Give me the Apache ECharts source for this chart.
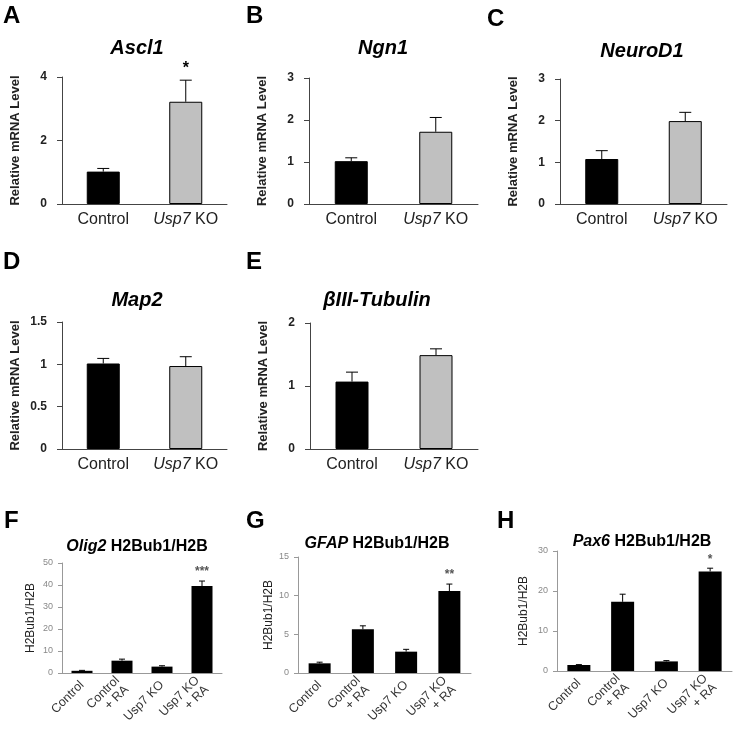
<!DOCTYPE html>
<html>
<head>
<meta charset="utf-8">
<script src="https://cdn.jsdelivr.net/npm/echarts@6/dist/echarts.min.js"></script>
<style>
  html, body { margin: 0; padding: 0; background: #fff; }
  #chart { width: 739px; height: 733px; }
</style>
</head>
<body>
<div id="chart"></div>
<script>
// ---------------- DATA ----------------
const topCategories = ['Control', 'Usp7 KO'];
const bottomCategories = ['Control', 'Control\n+ RA', 'Usp7 KO', 'Usp7 KO\n+ RA'];

const ascl1Mean = [1.02, 3.22];
const ascl1Err = [0.10, 0.68];
const ascl1Sig = ['', '*'];

const ngn1Mean = [1.02, 1.72];
const ngn1Err = [0.08, 0.34];
const ngn1Sig = ['', ''];

const neurod1Mean = [1.08, 1.99];
const neurod1Err = [0.20, 0.21];
const neurod1Sig = ['', ''];

const map2Mean = [1.01, 0.98];
const map2Err = [0.06, 0.11];
const map2Sig = ['', ''];

const tubulinMean = [1.07, 1.49];
const tubulinErr = [0.15, 0.10];
const tubulinSig = ['', ''];

const olig2Mean = [1.0, 5.6, 2.9, 39.5];
const olig2Err = [0.2, 0.7, 0.4, 2.3];
const olig2Sig = ['', '', '', '***'];

const gfapMean = [1.25, 5.65, 2.76, 10.6];
const gfapErr = [0.15, 0.45, 0.30, 0.9];
const gfapSig = ['', '', '', '**'];

const pax6Mean = [1.5, 17.3, 2.4, 24.9];
const pax6Err = [0.1, 1.9, 0.2, 0.8];
const pax6Sig = ['', '', '', '*'];

// axis ranges (max, interval)
const ascl1Axis = [4, 2];
const ngn1Axis = [3, 1];
const neurod1Axis = [3, 1];
const map2Axis = [1.5, 0.5];
const tubulinAxis = [2, 1];
const olig2Axis = [50, 10];
const gfapAxis = [15, 5];
const pax6Axis = [30, 10];

// ---------------- LAYOUT ----------------
const FONT = 'Liberation Sans, Arial, Helvetica, sans-serif';

const panels = [
  { letter: 'A', title: '{i|Ascl1}', cats: topCategories, mean: ascl1Mean, err: ascl1Err, sig: ascl1Sig, axis: ascl1Axis,
    grid: { left: 62, top: 77, width: 165, height: 127 }, titlePos: [137, 48], letterPos: [3, 4], kind: 'top' },
  { letter: 'B', title: '{i|Ngn1}', cats: topCategories, mean: ngn1Mean, err: ngn1Err, sig: ngn1Sig, axis: ngn1Axis,
    grid: { left: 309, top: 78, width: 169, height: 126 }, titlePos: [383, 48], letterPos: [246, 4], kind: 'top' },
  { letter: 'C', title: '{i|NeuroD1}', cats: topCategories, mean: neurod1Mean, err: neurod1Err, sig: neurod1Sig, axis: neurod1Axis,
    grid: { left: 560, top: 79, width: 167, height: 125 }, titlePos: [642, 51], letterPos: [487, 7], kind: 'top' },
  { letter: 'D', title: '{i|Map2}', cats: topCategories, mean: map2Mean, err: map2Err, sig: map2Sig, axis: map2Axis,
    grid: { left: 62, top: 322, width: 165, height: 127 }, titlePos: [137, 300], letterPos: [3, 250], kind: 'top' },
  { letter: 'E', title: '{i|βIII-Tubulin}', cats: topCategories, mean: tubulinMean, err: tubulinErr, sig: tubulinSig, axis: tubulinAxis,
    grid: { left: 310, top: 323, width: 168, height: 126 }, titlePos: [377, 300], letterPos: [246, 250], kind: 'top' },
  { letter: 'F', title: '{i|Olig2} H2Bub1/H2B', cats: bottomCategories, mean: olig2Mean, err: olig2Err, sig: olig2Sig, axis: olig2Axis,
    grid: { left: 62, top: 563, width: 160, height: 110 }, titlePos: [137, 547], letterPos: [4, 509], kind: 'bottom', barWidth: 21, nameGap: 25 },
  { letter: 'G', title: '{i|GFAP} H2Bub1/H2B', cats: bottomCategories, mean: gfapMean, err: gfapErr, sig: gfapSig, axis: gfapAxis,
    grid: { left: 298, top: 557, width: 173, height: 116 }, titlePos: [377, 544], letterPos: [246, 509], kind: 'bottom', barWidth: 22, nameGap: 23 },
  { letter: 'H', title: '{i|Pax6} H2Bub1/H2B', cats: bottomCategories, mean: pax6Mean, err: pax6Err, sig: pax6Sig, axis: pax6Axis,
    grid: { left: 557, top: 551, width: 175, height: 120 }, titlePos: [642, 542], letterPos: [497, 509], kind: 'bottom', barWidth: 23, nameGap: 27 }
];

const option = {
  animation: false,
  backgroundColor: '#fff',
  textStyle: { fontFamily: FONT },
  title: [], grid: [], xAxis: [], yAxis: [], series: []
};

function catFormatter(v) {
  if (v.indexOf('Usp7') === 0) return '{i|Usp7}' + v.slice(4);
  return v;
}

panels.forEach((p, k) => {
  const isTop = p.kind === 'top';
  // panel letter
  option.title.push({
    text: p.letter, left: p.letterPos[0], top: p.letterPos[1], padding: 0,
    textStyle: { fontFamily: FONT, fontSize: 24, fontWeight: 'bold', color: '#000' }
  });
  // panel title
  const tSize = isTop ? 20 : 16;
  option.title.push({
    text: p.title, left: p.titlePos[0], top: p.titlePos[1], padding: 0,
    textAlign: 'center', textVerticalAlign: 'middle',
    textStyle: {
      fontFamily: FONT, fontSize: tSize, fontWeight: 'bold', color: '#000',
      rich: { i: { fontFamily: FONT, fontSize: tSize, fontWeight: 'bold', fontStyle: 'italic', color: '#000' } }
    }
  });
  option.grid.push(Object.assign({ containLabel: false }, p.grid));

  const axisColor = isTop ? '#444' : '#999';
  option.xAxis.push({
    type: 'category', gridIndex: k, data: p.cats,
    axisLine: { show: true, lineStyle: { color: axisColor, width: 1 } },
    axisTick: { show: false },
    splitLine: { show: false },
    axisLabel: isTop ? {
      interval: 0, margin: 8, fontFamily: FONT, fontSize: 16, color: '#222',
      formatter: catFormatter,
      rich: { i: { fontFamily: FONT, fontSize: 16, fontStyle: 'italic', color: '#222' } }
    } : {
      interval: 0, rotate: 45, margin: 10, fontFamily: FONT, fontSize: 12.5, color: '#333', lineHeight: 13
    }
  });
  option.yAxis.push({
    type: 'value', gridIndex: k, min: 0, max: p.axis[0], interval: p.axis[1],
    axisLine: { show: true, lineStyle: { color: axisColor, width: 1 } },
    axisTick: { show: true, length: isTop ? 5 : 4, lineStyle: { color: axisColor } },
    splitLine: { show: false },
    axisLabel: isTop
      ? { margin: 15, fontFamily: FONT, fontSize: 12, fontWeight: 'bold', color: '#222' }
      : { margin: 9, fontFamily: FONT, fontSize: 9, color: '#888' },
    name: isTop ? 'Relative mRNA Level' : 'H2Bub1/H2B',
    nameLocation: 'middle',
    nameGap: isTop ? 40 : p.nameGap,
    nameTextStyle: isTop
      ? { fontFamily: FONT, fontSize: 13, fontWeight: 'bold', color: '#222' }
      : { fontFamily: FONT, fontSize: 12, color: '#222' }
  });

  const colors = isTop ? ['#000000', '#c0c0c0'] : ['#000000', '#000000', '#000000', '#000000'];
  option.series.push({
    type: 'bar', xAxisIndex: k, yAxisIndex: k,
    barWidth: isTop ? 33 : p.barWidth,
    data: p.mean.map((v, i) => ({
      value: v,
      itemStyle: { color: colors[i], borderColor: '#000', borderWidth: isTop ? 1 : 0 }
    })),
    z: 2
  });

  const sig = p.sig;
  const capHalf = isTop ? 6 : 3;
  option.series.push({
    type: 'custom', xAxisIndex: k, yAxisIndex: k, z: 5,
    data: p.mean.map((v, i) => [i, v, p.err[i]]),
    renderItem: function (params, api) {
      const i = api.value(0), m = api.value(1), e = api.value(2);
      const base = api.coord([i, m]);
      const top = api.coord([i, m + e]);
      const children = [
        { type: 'line', shape: { x1: top[0], y1: base[1], x2: top[0], y2: top[1] },
          style: { stroke: '#000', lineWidth: 1 } },
        { type: 'line', shape: { x1: top[0] - capHalf, y1: top[1], x2: top[0] + capHalf, y2: top[1] },
          style: { stroke: '#000', lineWidth: 1 } }
      ];
      const s = sig[params.dataIndex];
      if (s) {
        children.push({
          type: 'text',
          style: {
            text: s, x: top[0], y: top[1] - (isTop ? 12 : 9),
            align: 'center', verticalAlign: 'middle',
            fill: isTop ? '#000' : '#555',
            font: isTop ? 'bold 16px ' + FONT : 'bold 12px ' + FONT
          }
        });
      }
      return { type: 'group', children: children };
    }
  });
});

const chart = echarts.init(document.getElementById('chart'), null, { renderer: 'canvas' });
chart.setOption(option);
</script>
</body>
</html>
